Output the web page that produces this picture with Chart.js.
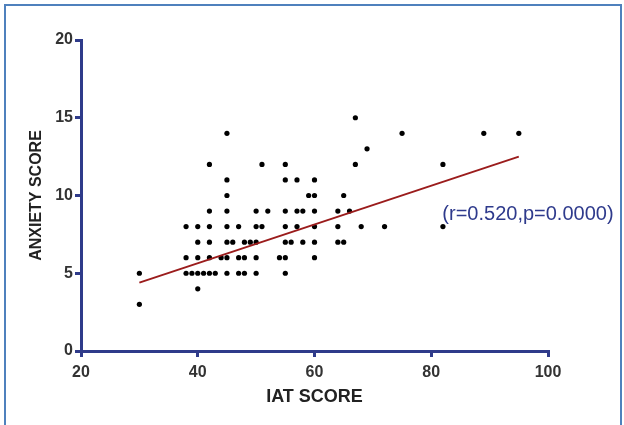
<!DOCTYPE html>
<html>
<head>
<meta charset="utf-8">
<script src="https://cdn.jsdelivr.net/npm/chart.js@4/dist/chart.umd.min.js"></script>
<style>
  html, body { margin: 0; padding: 0; background: #fff; }
  #wrap { position: relative; width: 624px; height: 425px; overflow: hidden; }
  #frame { position: absolute; left: 4px; top: 4px; width: 614px; height: 440px;
           border: 2px solid #4f81bd; border-bottom: none; }
  canvas { position: absolute; left: 0; top: 0; }
</style>
</head>
<body>
<div id="wrap">
  <div id="frame"></div>
  <canvas id="scatterChart" width="624" height="425"></canvas>
</div>
<script>
// IAT score vs anxiety score, one entry per participant
const iatScore = [
  30, 40,
  30, 38, 39, 40, 41, 42, 43, 45, 47, 48, 50, 55,
  38, 40, 42, 44, 45, 47, 48, 50, 54, 55, 60,
  40, 42, 45, 46, 48, 49, 50, 55, 56, 58, 60, 64, 65,
  38, 40, 42, 45, 47, 50, 51, 55, 57, 60, 64, 68, 72, 82,
  42, 45, 50, 52, 55, 57, 58, 60, 64, 66,
  45, 59, 60, 65,
  45, 55, 57, 60,
  42, 51, 55, 67, 82,
  69,
  45, 75, 89, 95,
  67
];
const anxietyScore = [
  3, 4,
  5, 5, 5, 5, 5, 5, 5, 5, 5, 5, 5, 5,
  6, 6, 6, 6, 6, 6, 6, 6, 6, 6, 6,
  7, 7, 7, 7, 7, 7, 7, 7, 7, 7, 7, 7, 7,
  8, 8, 8, 8, 8, 8, 8, 8, 8, 8, 8, 8, 8, 8,
  9, 9, 9, 9, 9, 9, 9, 9, 9, 9,
  10, 10, 10, 10,
  11, 11, 11, 11,
  12, 12, 12, 12, 12,
  13,
  14, 14, 14, 14,
  15
];

// fitted regression line end points
const fitX = [30, 95];
const fitY = [4.4, 12.5];

const xTicks = [20, 40, 60, 80, 100];
const yTicks = [0, 5, 10, 15, 20];

const statsLabel = '(r=0.520,p=0.0000)';

const axisColor = '#2f3b8a';
const points = iatScore.map((x, i) => ({ x: x, y: anxietyScore[i] }));
const fitLine = fitX.map((x, i) => ({ x: x, y: fitY[i] }));

// write the r / p value next to the line
const statsText = {
  id: 'statsText',
  afterDraw(chart) {
    const ctx = chart.ctx;
    const xs = chart.scales.x, ys = chart.scales.y;
    ctx.save();
    ctx.font = '20px "Liberation Sans", Arial, sans-serif';
    ctx.fillStyle = '#2e3a8c';
    ctx.textAlign = 'left';
    ctx.textBaseline = 'middle';
    ctx.fillText(statsLabel, xs.getPixelForValue(81.9), ys.getPixelForValue(8.75));
    ctx.restore();
  }
};

new Chart(document.getElementById('scatterChart'), {
  type: 'scatter',
  data: {
    datasets: [{
      label: 'Fit',
      data: fitLine,
      showLine: true,
      borderColor: '#9b1c1c',
      borderWidth: 2,
      pointRadius: 0,
      fill: false
    }, {
      label: 'Participants',
      data: points,
      backgroundColor: '#000',
      borderColor: '#000',
      pointRadius: 2.6,
      borderWidth: 0
    }]
  },
  options: {
    responsive: false,
    animation: false,
    layout: { padding: { left: 0, top: 40, right: 76, bottom: 0 } },
    plugins: { legend: { display: false }, tooltip: { enabled: false } },
    scales: {
      x: {
        type: 'linear',
        min: 20, max: 100,
        afterFit(scale) { scale.height = 74; },
        afterBuildTicks(scale) { scale.ticks = xTicks.map(v => ({ value: v })); },
        grid: { drawOnChartArea: false, drawTicks: true, tickLength: 6, color: axisColor, lineWidth: 3 },
        border: { color: axisColor, width: 3 },
        ticks: { color: '#333', padding: 6, font: { family: '"Liberation Sans", Arial', size: 16, weight: 'bold' } },
        title: {
          display: true, text: 'IAT SCORE', color: '#222',
          font: { family: '"Liberation Sans", Arial', size: 18, weight: 'bold' },
          padding: { top: 0, bottom: 17 }
        }
      },
      y: {
        min: 0, max: 20,
        afterFit(scale) { scale.width = 81; },
        afterBuildTicks(scale) { scale.ticks = yTicks.map(v => ({ value: v })); },
        grid: { drawOnChartArea: false, drawTicks: true, tickLength: 6, color: axisColor, lineWidth: 3 },
        border: { color: axisColor, width: 3 },
        ticks: { color: '#333', padding: 2, font: { family: '"Liberation Sans", Arial', size: 16, weight: 'bold' } },
        title: {
          display: true, text: 'ANXIETY SCORE', color: '#222',
          font: { family: '"Liberation Sans", Arial', size: 16, weight: 'bold' },
          padding: { top: 27, bottom: 0 }
        }
      }
    }
  },
  plugins: [statsText]
});
</script>
</body>
</html>
